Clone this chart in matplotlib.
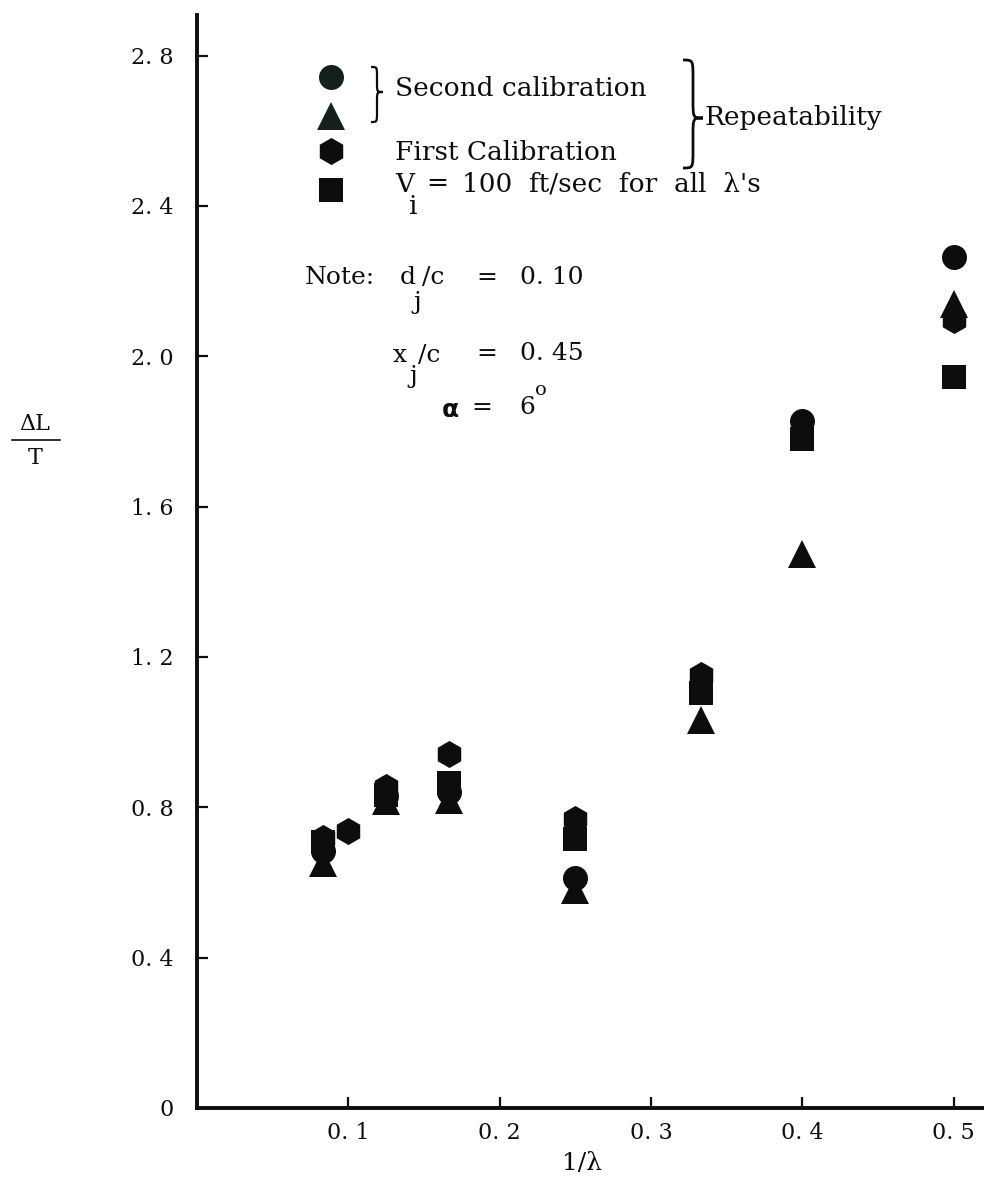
import matplotlib
matplotlib.use('Agg')
import matplotlib.pyplot as plt
from matplotlib.path import Path
from matplotlib.patches import PathPatch

# lift increment vs 1/lambda, read per calibration run
x_circle = [1/12, 1/8, 1/6, 1/4, 1/2.5, 1/2]
dl_circle = [0.685, 0.83, 0.84, 0.611, 1.829, 2.264]
x_triangle = [1/12, 1/8, 1/6, 1/4, 1/3, 1/2.5, 1/2]
dl_triangle = [0.653, 0.818, 0.82, 0.579, 1.031, 1.475, 2.138]

x_first = [1/12, 1/10, 1/8, 1/6, 1/4, 1/3, 1/2]
dl_hexagon = [0.719, 0.736, 0.854, 0.941, 0.768, 1.151, 2.096]

x_v100 = [1/12, 1/8, 1/6, 1/4, 1/3, 1/2.5, 1/2]
dl_square = [0.707, 0.832, 0.864, 0.715, 1.103, 1.779, 1.944]

xticks = [0.1, 0.2, 0.3, 0.4, 0.5]
xtick_labels = ['0. 1', '0. 2', '0. 3', '0. 4', '0. 5']
yticks = [0, 0.4, 0.8, 1.2, 1.6, 2.0, 2.4, 2.8]
ytick_labels = ['0', '0. 4', '0. 8', '1. 2', '1. 6', '2. 0', '2. 4', '2. 8']

plt.rcParams['font.family'] = ['DejaVu Serif']
W, H = 984, 1182
fig = plt.figure(figsize=(W / 100, H / 100), dpi=100)
ax = fig.add_axes([197 / W, 1 - 1108 / H, (W - 197) / W, (1108 - 15) / H])

ink = '#0d0d0d'
green_ink = '#14211a'
ax.plot(x_first, dl_hexagon, 'h', ms=19.5, color=ink, mew=0, zorder=3)
ax.plot(x_v100, dl_square, 's', ms=17, color=ink, mew=0, zorder=4)
ax.plot(x_circle, dl_circle, 'o', ms=18, color=ink, mew=0, zorder=5)
ax.plot(x_triangle, dl_triangle, '^', ms=19.5, color=ink, mew=0, zorder=6)

ax.set_xlim(0, 0.52)
ax.set_ylim(0, 2.908)
ax.set_xticks(xticks)
ax.set_xticklabels(xtick_labels)
ax.set_yticks(yticks)
ax.set_yticklabels(ytick_labels)
ax.tick_params(direction='in', length=8, width=1.6, labelsize=16, colors=ink)
ax.tick_params(axis='y', pad=17)
ax.tick_params(axis='x', pad=10)
for s in ['top', 'right']:
    ax.spines[s].set_visible(False)
for s in ['left', 'bottom']:
    ax.spines[s].set_linewidth(2.8)
    ax.spines[s].set_color(ink)
ax.patch.set_visible(False)

# overlay in pixel units for the key and notes
ov = fig.add_axes([0, 0, 1, 1])
ov.set_xlim(0, W)
ov.set_ylim(H, 0)
ov.axis('off')


def t(x, y, s, size=19, ha='left', **kw):
    ov.text(x, y, s, fontsize=size, ha=ha, va='center', color=ink, **kw)


def brace(x0, y_top, y_bot, w, y_tip, lw=1.6, curl=0.8):
    xm = x0 + w / 2
    r = w * curl
    verts = [(x0, y_top),
             (xm, y_top), (xm, y_top), (xm, y_top + r),
             (xm, y_tip - r),
             (xm, y_tip), (xm, y_tip), (x0 + w, y_tip),
             (xm, y_tip), (xm, y_tip), (xm, y_tip + r),
             (xm, y_bot - r),
             (xm, y_bot), (xm, y_bot), (x0, y_bot)]
    codes = [Path.MOVETO] + [Path.CURVE4] * 3 + [Path.LINETO] + [Path.CURVE4] * 6 \
        + [Path.LINETO] + [Path.CURVE4] * 3
    ov.add_patch(PathPatch(Path(verts, codes), fill=False, lw=lw, color=ink))


# key markers
ov.plot([331], [77], 'o', ms=18, color=green_ink, mew=0)
ov.plot([331], [116], '^', ms=19.5, color=green_ink, mew=0)
ov.plot([331], [151], 'h', ms=19.5, color=ink, mew=0)
ov.plot([331], [190], 's', ms=17, color=ink, mew=0)

brace(371, 67, 122, 12, 92)
t(395, 89, 'Second calibration')
t(395, 153, 'First Calibration')
t(395, 184, 'V')
t(409, 207, 'i')
t(437, 184, '=', ha='center')
t(462, 184, "100  ft/sec  for  all  λ's")
brace(683, 60, 168, 20, 118, lw=2.0, curl=0.9)
t(705, 118, 'Repeatability')

t(305, 278, 'Note:', size=18)
t(400, 277, 'd', size=18)
t(413, 302, 'j', size=18)
t(422, 277, '/c', size=18)
t(487, 277, '=', ha='center', size=18)
t(520, 277, '0. 10', size=18)
t(393, 355, 'x', size=18)
t(409, 377, 'j', size=18)
t(418, 355, '/c', size=18)
t(487, 354, '=', ha='center', size=18)
t(520, 354, '0. 45', size=18)
t(442, 410, 'α', size=18, family='DejaVu Sans', weight='bold')
t(482, 408, '=', ha='center', size=18)
t(519, 408, '6', size=18)
t(535, 390, 'o', size=14)

# y label as a stacked fraction
t(35, 424, 'ΔL', ha='center', size=16)
ov.plot([12, 60], [440, 440], color=ink, lw=1.2)
t(35, 458, 'T', ha='center', size=16)

t(582, 1163, '1/λ', ha='center', size=18)

fig.savefig('out.png', dpi=100)
